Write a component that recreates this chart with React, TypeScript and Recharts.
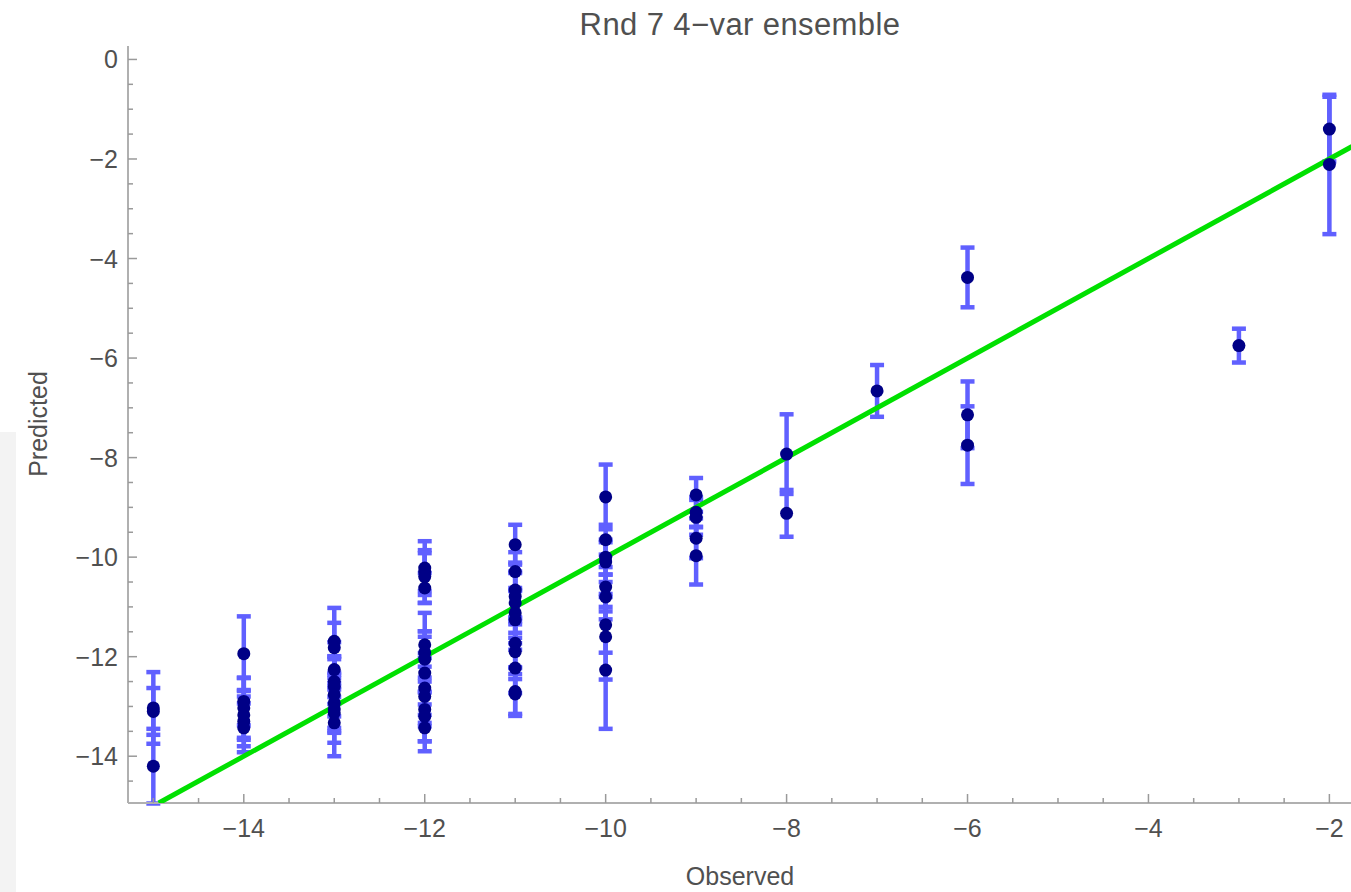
import React from 'react';
import { ScatterChart, Scatter, XAxis, YAxis, ErrorBar } from 'recharts';

const TITLE = 'Rnd 7 4\u2212var ensemble';
const X_LABEL = 'Observed';
const Y_LABEL = 'Predicted';

const observed = [
  -15, -15, -15,
  -14, -14, -14, -14, -14, -14,
  -13, -13, -13, -13, -13, -13, -13, -13, -13, -13,
  -12, -12, -12, -12, -12, -12, -12, -12, -12, -12, -12, -12, -12,
  -11, -11, -11, -11, -11, -11, -11, -11, -11, -11, -11, -11,
  -10, -10, -10, -10, -10, -10, -10, -10, -10,
  -9, -9, -9, -9, -9,
  -8, -8,
  -7,
  -6, -6, -6,
  -3,
  -2, -2,
];

const predicted = [
  -13.03, -13.1, -14.2,
  -11.94, -12.9, -13.03, -13.17, -13.3, -13.43,
  -11.69, -11.82, -12.26, -12.5, -12.6, -12.76, -12.93, -13.05, -13.13, -13.33,
  -10.22, -10.3, -10.39, -10.62, -11.76, -11.92, -12.05, -12.33, -12.63, -12.8, -13.06, -13.2, -13.43,
  -9.75, -10.29, -10.66, -10.79, -10.92, -11.12, -11.26, -11.73, -11.9, -12.23, -12.7, -12.75,
  -8.79, -9.65, -10.0, -10.1, -10.6, -10.8, -11.36, -11.6, -12.27,
  -8.75, -9.1, -9.2, -9.62, -9.97,
  -7.93, -9.12,
  -6.66,
  -4.38, -7.14, -7.75,
  -5.75,
  -1.4, -2.11,
];

const errors = [
  0.72, 0.47, 0.75,
  0.75, 0.48, 0.6, 0.5, 0.5, 0.49,
  0.67, 0.5, 0.55, 0.45, 0.6, 0.77, 0.5, 0.45, 0.6, 0.67,
  0.54, 0.38, 0.53, 0.3, 0.27, 0.8, 0.45, 0.84, 0.7, 0.6, 0.64, 0.5, 0.47,
  0.4, 0.39, 0.55, 0.5, 0.6, 0.5, 0.6, 0.5, 0.55, 0.5, 0.49, 0.4,
  0.65, 0.3, 0.35, 0.4, 0.4, 0.45, 0.56, 0.86, 1.18,
  0.34, 0.3, 0.35, 0.4, 0.58,
  0.8, 0.47,
  0.52,
  0.6, 0.67, 0.78,
  0.34,
  0.65, 1.4,
];

const fitX = [-14.94, -1.75];

const xTicks = [
  -15, -14.5, -14, -13.5, -13, -12.5, -12, -11.5, -11, -10.5, -10, -9.5, -9, -8.5,
  -8, -7.5, -7, -6.5, -6, -5.5, -5, -4.5, -4, -3.5, -3, -2.5, -2,
];
const xMajorTicks = [-14, -12, -10, -8, -6, -4, -2];
const yTicks = [
  0, -0.5, -1, -1.5, -2, -2.5, -3, -3.5, -4, -4.5, -5, -5.5, -6, -6.5, -7, -7.5,
  -8, -8.5, -9, -9.5, -10, -10.5, -11, -11.5, -12, -12.5, -13, -13.5, -14, -14.5,
];
const yMajorTicks = [0, -2, -4, -6, -8, -10, -12, -14];

const X_DOMAIN: [number, number] = [-15.28, -1.75];
const Y_DOMAIN: [number, number] = [-14.94, 0.27];

const points = observed.map((x, i) => ({ x, y: predicted[i], err: errors[i] }));
const fitLine = fitX.map((v) => ({ x: v, y: v }));

const FONT = '"Liberation Sans", Arial, Helvetica, sans-serif';
const TICK_COLOR = '#9a9a9a';
const LABEL_COLOR = '#505050';
const FRAME = '#b0b0b0';

const fmt = (v: number) => (v < 0 ? '\u2212' + Math.abs(v) : String(v));

const makeXTick = (dir: number, showLabel: boolean) => (props: any) => {
  const { x, y, payload } = props;
  const v = payload.value;
  const major = xMajorTicks.includes(v);
  return (
    <g>
      <line x1={x} x2={x} y1={y} y2={y + dir * (major ? 9 : 5)} stroke={TICK_COLOR} strokeWidth={1.5} />
      {showLabel && major && (
        <text x={x} y={y + 34} textAnchor="middle" fontSize={25} fill={LABEL_COLOR} fontFamily={FONT}>
          {fmt(v)}
        </text>
      )}
    </g>
  );
};

const makeYTick = (dir: number, showLabel: boolean) => (props: any) => {
  const { x, y, payload } = props;
  const v = payload.value;
  const major = yMajorTicks.includes(v);
  return (
    <g>
      <line x1={x} x2={x + dir * (major ? 9 : 5)} y1={y} y2={y} stroke={TICK_COLOR} strokeWidth={1.5} />
      {showLabel && major && (
        <text x={x - 10} y={y + 9} textAnchor="end" fontSize={25} fill={LABEL_COLOR} fontFamily={FONT}>
          {fmt(v)}
        </text>
      )}
    </g>
  );
};

const Dot = (props: any) => {
  const { cx, cy } = props;
  if (cx == null || cy == null) return <g />;
  return <circle cx={cx} cy={cy} r={6.5} fill="#000086" />;
};

const NoDot = () => <g />;

export default function App() {
  return (
    <div
      style={{
        position: 'absolute',
        left: 0,
        top: 0,
        width: 1351,
        height: 892,
        overflow: 'hidden',
        background: '#ffffff',
      }}
    >
      <div
        style={{
          position: 'absolute',
          left: 0,
          top: 432,
          width: 16,
          height: 460,
          background: '#f3f3f3',
        }}
      />
      <div style={{ position: 'absolute', left: 0, top: 0 }}>
        <ScatterChart width={1380} height={892} margin={{ top: 46, right: 28, left: 0, bottom: 0 }}>
          <XAxis
            xAxisId={0}
            dataKey="x"
            type="number"
            orientation="bottom"
            domain={X_DOMAIN}
            allowDataOverflow
            ticks={xTicks}
            interval={0}
            height={89}
            tickSize={0}
            tickMargin={0}
            tickLine={false}
            axisLine={{ stroke: FRAME, strokeWidth: 2 }}
            tick={makeXTick(-1, true)}
          />
          <XAxis
            xAxisId="top"
            type="number"
            orientation="top"
            domain={X_DOMAIN}
            allowDataOverflow
            ticks={xTicks}
            interval={0}
            height={0}
            tickSize={0}
            tickMargin={0}
            tickLine={false}
            axisLine={{ stroke: FRAME, strokeWidth: 2 }}
            tick={makeXTick(1, false)}
          />
          <YAxis
            yAxisId={0}
            dataKey="y"
            type="number"
            orientation="left"
            domain={Y_DOMAIN}
            allowDataOverflow
            ticks={yTicks}
            interval={0}
            width={128}
            tickSize={0}
            tickMargin={0}
            tickLine={false}
            axisLine={{ stroke: FRAME, strokeWidth: 2 }}
            tick={makeYTick(1, true)}
          />
          <YAxis
            yAxisId="right"
            type="number"
            orientation="right"
            domain={Y_DOMAIN}
            allowDataOverflow
            ticks={yTicks}
            interval={0}
            width={0}
            tickSize={0}
            tickMargin={0}
            tickLine={false}
            axisLine={{ stroke: FRAME, strokeWidth: 2 }}
            tick={makeYTick(-1, false)}
          />
          <Scatter
            data={fitLine}
            line={{ stroke: '#00e000', strokeWidth: 5 }}
            shape={NoDot}
            isAnimationActive={false}
          />
          <Scatter data={points} shape={Dot} isAnimationActive={false}>
            <ErrorBar dataKey="err" direction="y" width={7} strokeWidth={4.5} stroke="#6060ff" isAnimationActive={false} />
          </Scatter>
        </ScatterChart>
      </div>
      <svg
        width={1351}
        height={892}
        style={{ position: 'absolute', left: 0, top: 0, pointerEvents: 'none' }}
      >
        <text x={740} y={35} textAnchor="middle" fontSize={31} letterSpacing={0.4} fill={LABEL_COLOR} fontFamily={FONT}>
          {TITLE}
        </text>
        <text x={740} y={885} textAnchor="middle" fontSize={25} fill={LABEL_COLOR} fontFamily={FONT}>
          {X_LABEL}
        </text>
        <text
          x={0}
          y={0}
          transform="translate(47 424) rotate(-90)"
          textAnchor="middle"
          fontSize={25}
          fill={LABEL_COLOR}
          fontFamily={FONT}
        >
          {Y_LABEL}
        </text>
      </svg>
    </div>
  );
}
